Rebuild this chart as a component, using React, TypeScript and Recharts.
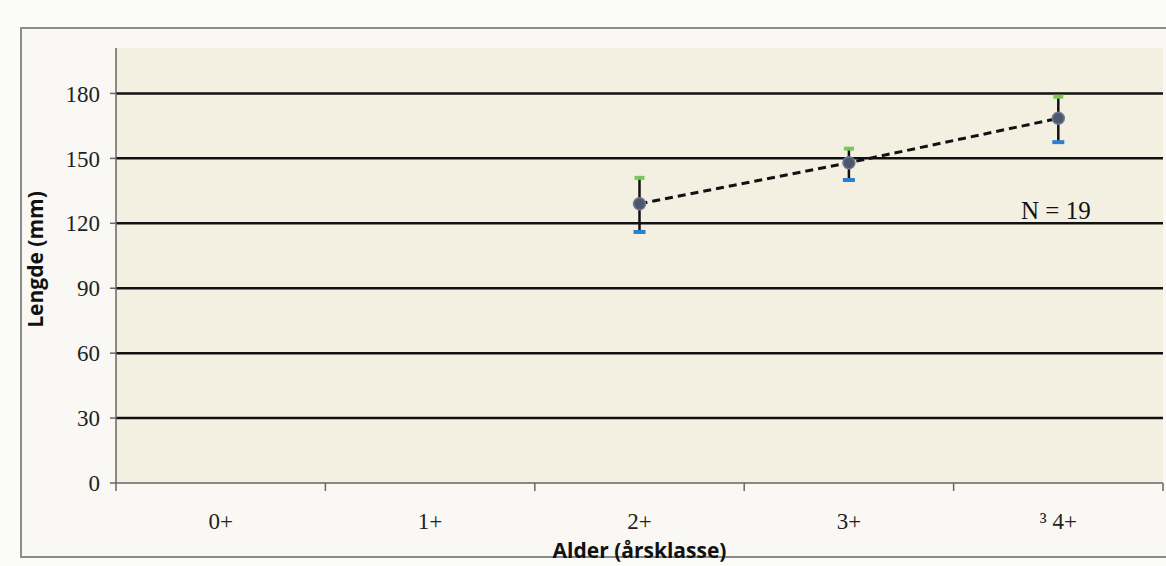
import { ComposedChart, Line, XAxis, YAxis, CartesianGrid, ErrorBar } from "recharts";

const ageClasses = ["0+", "1+", "2+", "3+", "³ 4+"];
const meanLength = [null, null, 129, 148, 168.5];
const upperLength = [null, null, 141, 154.5, 178.5];
const lowerLength = [null, null, 116, 140, 157.5];
const yTicks = [0, 30, 60, 90, 120, 150, 180];
const gridValues = [30, 60, 90, 120, 150, 180];
const sampleNote = "N = 19";

const W = 1166;
const H = 566;
const margin = { top: 48, right: 3, bottom: 0, left: 36 };
const Y_AXIS_W = 80;
const X_AXIS_H = 83;
const band = (W - margin.left - Y_AXIS_W - margin.right) / ageClasses.length;

const serif = "'Liberation Serif', 'Times New Roman', serif";
const sans = "'Open Sans', 'Liberation Sans', sans-serif";

const data = ageClasses.map((age, i) => {
  const m = meanLength[i];
  const hi = upperLength[i];
  const lo = lowerLength[i];
  return {
    age,
    mean: m,
    hi,
    lo,
    err: m == null || hi == null || lo == null ? null : [m - lo, hi - m],
  };
});

const cap = (color: string, half: number) => (p: any) => {
  const { cx, cy, index } = p;
  if (cx == null || cy == null || Number.isNaN(cy)) return <g key={`c-${color}-${index}`} />;
  return (
    <line key={`c-${color}-${index}`} x1={cx - half} x2={cx + half} y1={cy} y2={cy} stroke={color} strokeWidth={4} />
  );
};

const meanDot = (p: any) => {
  const { cx, cy, index } = p;
  if (cx == null || cy == null || Number.isNaN(cy)) return <g key={`m-${index}`} />;
  return <circle key={`m-${index}`} cx={cx} cy={cy} r={6} fill="#4d566d" stroke="#6f7b99" strokeWidth={1.5} />;
};

const AgeTick = (p: any) => {
  const { x, y, payload, index } = p;
  const left = x - band / 2;
  return (
    <g>
      <line x1={left} x2={left} y1={y} y2={y + 8} stroke="#666" strokeWidth={1.5} />
      {index === ageClasses.length - 1 && (
        <line x1={left + band} x2={left + band} y1={y} y2={y + 8} stroke="#666" strokeWidth={1.5} />
      )}
      <text x={x} y={y + 38} textAnchor="middle" dominantBaseline="central" fontFamily={serif} fontSize={23} fill="#222">
        {payload.value}
      </text>
    </g>
  );
};

const YTitle = (p: any) => {
  const { viewBox } = p;
  const cx = viewBox.x - 1;
  const cy = viewBox.y + viewBox.height / 2 - 6;
  return (
    <text x={cx} y={cy} transform={`rotate(-90 ${cx} ${cy})`} textAnchor="middle" dominantBaseline="central"
      fontFamily={sans} fontWeight={700} fontSize={21} fill="#111">
      Lengde (mm)
    </text>
  );
};

export default function App() {
  return (
    <div style={{ position: "absolute", left: 0, top: 0, width: W, height: H, background: "#fbfbf8", overflow: "hidden" }}>
      <div style={{ position: "absolute", left: 20, top: 27, width: 1170, height: 527, border: "2px solid #8c8c8c", background: "#f9f8f4" }} />
      <div style={{ position: "absolute", left: 0, top: 0 }}>
        <ComposedChart width={W} height={H} data={data} margin={margin}>
          <CartesianGrid fill="#f3f0e1" vertical={false} horizontalValues={gridValues} stroke="#111" strokeWidth={2.5} strokeOpacity={1} />
          <XAxis dataKey="age" scale="band" height={X_AXIS_H} tickLine={false} tickSize={0} tickMargin={0} tick={<AgeTick />}
            axisLine={{ stroke: "#666", strokeWidth: 1.5 }}
            label={{ value: "Alder (årsklasse)", position: "insideBottom", offset: 8, fontFamily: sans, fontWeight: 700, fontSize: 21, fill: "#111" }} />
          <YAxis type="number" domain={[0, 201]} ticks={yTicks} width={Y_AXIS_W} tickSize={6} tickMargin={10}
            axisLine={{ stroke: "#666", strokeWidth: 1.5 }} tickLine={{ stroke: "#666", strokeWidth: 1.5 }}
            tick={{ fontFamily: serif, fontSize: 23, fill: "#222" }} label={<YTitle />} />
          <Line dataKey="hi" stroke="none" dot={cap("#7cc653", 5)} activeDot={false} isAnimationActive={false} legendType="none" />
          <Line dataKey="lo" stroke="none" dot={cap("#2b7fd0", 6)} activeDot={false} isAnimationActive={false} legendType="none" />
          <Line dataKey="mean" stroke="#111" strokeWidth={3} strokeDasharray="8 5" dot={meanDot} activeDot={false} isAnimationActive={false}>
            <ErrorBar dataKey="err" width={0} stroke="#111" strokeWidth={2.5} />
          </Line>
        </ComposedChart>
      </div>
      <div style={{ position: "absolute", left: 1021, top: 196, fontFamily: serif, fontSize: 25, color: "#111", lineHeight: "30px" }}>
        {sampleNote}
      </div>
    </div>
  );
}
